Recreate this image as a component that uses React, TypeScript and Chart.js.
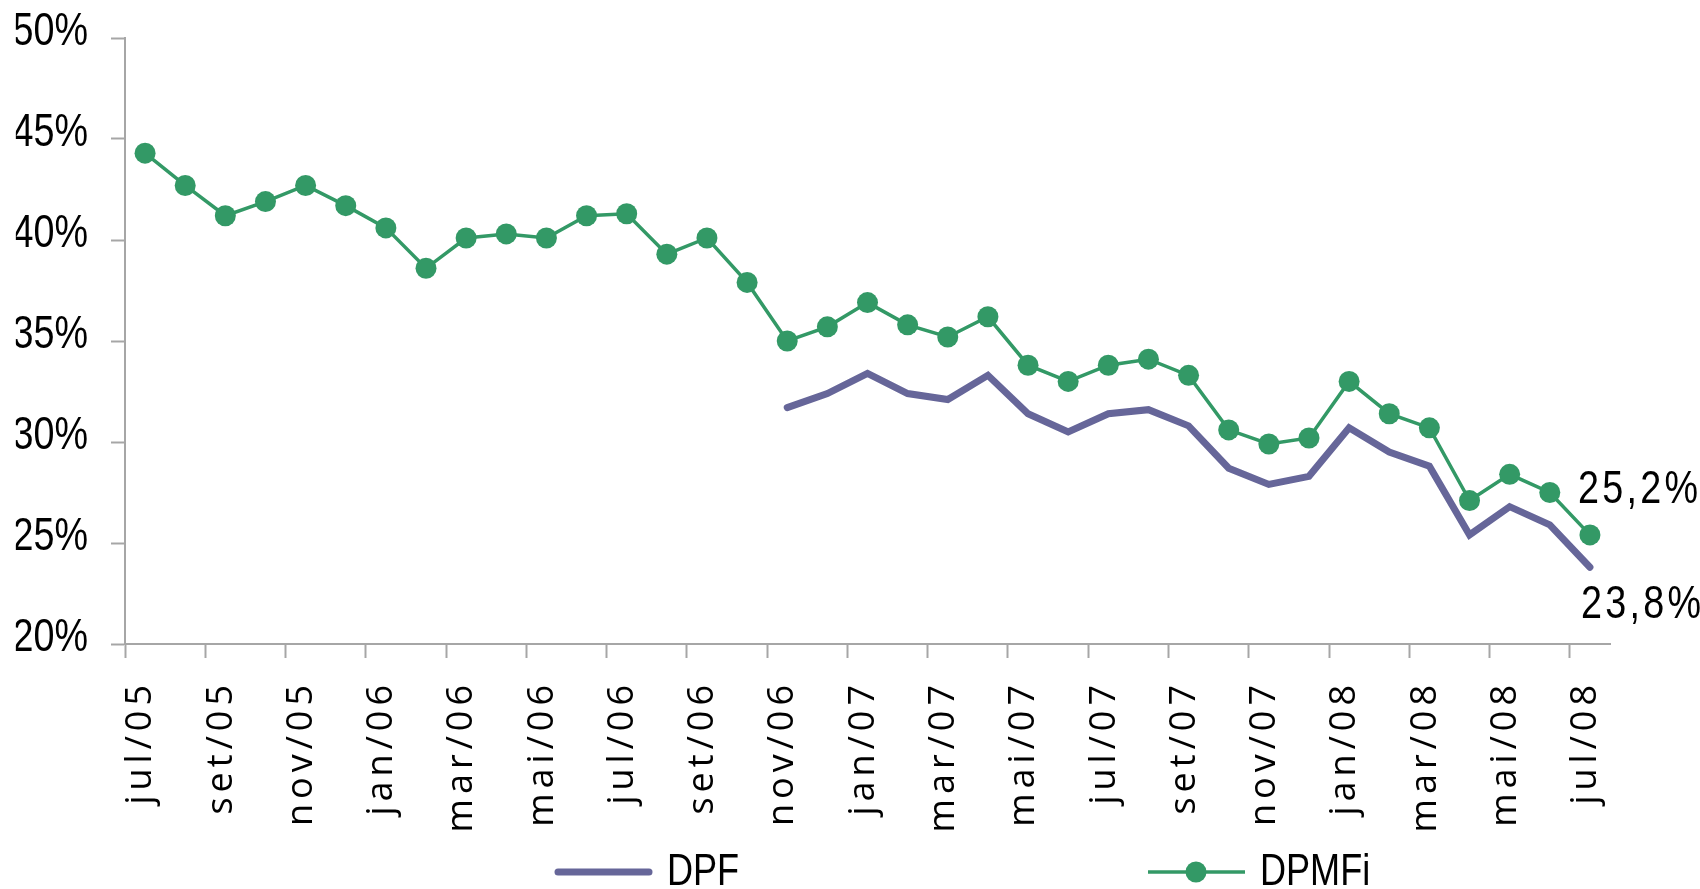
import React, { useEffect, useRef } from 'react';
import { Chart, registerables, CategoryScale, LinearScale } from 'chart.js';

Chart.register(...registerables);

// ---- data ----
const months = [
  'jul/05', 'ago/05', 'set/05', 'out/05', 'nov/05', 'dez/05',
  'jan/06', 'fev/06', 'mar/06', 'abr/06', 'mai/06', 'jun/06', 'jul/06', 'ago/06', 'set/06', 'out/06', 'nov/06', 'dez/06',
  'jan/07', 'fev/07', 'mar/07', 'abr/07', 'mai/07', 'jun/07', 'jul/07', 'ago/07', 'set/07', 'out/07', 'nov/07', 'dez/07',
  'jan/08', 'fev/08', 'mar/08', 'abr/08', 'mai/08', 'jun/08', 'jul/08',
];

const dpf = [
  null, null, null, null, null, null,
  null, null, null, null, null, null, null, null, null, null, 31.7, 32.4,
  33.4, 32.4, 32.1, 33.3, 31.4, 30.5, 31.4, 31.6, 30.8, 28.7, 27.9, 28.3,
  30.7, 29.5, 28.8, 25.4, 26.8, 25.9, 23.8,
];

const dpmfi = [
  44.3, 42.7, 41.2, 41.9, 42.7, 41.7,
  40.6, 38.6, 40.1, 40.3, 40.1, 41.2, 41.3, 39.3, 40.1, 37.9, 35.0, 35.7,
  36.9, 35.8, 35.2, 36.2, 33.8, 33.0, 33.8, 34.1, 33.3, 30.6, 29.9, 30.2,
  33.0, 31.4, 30.7, 27.1, 28.4, 27.5, 25.4,
];

const seriesNames = ['DPF', 'DPMFi'];
const endLabels = ['23,8%', '25,2%'];
const yTicks = [20, 25, 30, 35, 40, 45, 50];

// ---- styles ----
const PURPLE = '#666699';
const GREEN = '#339966';
const AXIS = '#a6a6a6';
const NARROW_FAMILY = "'Liberation Sans', Arial, sans-serif";
const NARROW_SCALE = 0.82;
const WIDE = "'Open Sans', 'Noto Sans', sans-serif";

const Y_TICK_LEN = 14;
const Y_PAD = 23;

class SpacedCategoryScale extends (CategoryScale as any) {
  static id = 'spacedCategory';
  static defaults = (CategoryScale as any).defaults;
  drawLabels(chartArea: any) {
    const ctx = (this as any).ctx;
    const prev = ctx.letterSpacing;
    ctx.letterSpacing = '5px';
    super.drawLabels(chartArea);
    ctx.letterSpacing = prev || '0px';
  }
}

class NarrowLinearScale extends (LinearScale as any) {
  static id = 'narrowLinear';
  static defaults = (LinearScale as any).defaults;
  drawLabels(chartArea: any) {
    const ctx = (this as any).ctx;
    const ax = (this as any).right - Y_TICK_LEN - Y_PAD;
    ctx.save();
    ctx.translate(ax, 0);
    ctx.scale(NARROW_SCALE, 1);
    ctx.translate(-ax, 0);
    super.drawLabels(chartArea);
    ctx.restore();
  }
}
Chart.register(SpacedCategoryScale as any, NarrowLinearScale as any);

function narrowText(ctx: any, text: string, x: number, y: number, size: number, spacing = 0) {
  ctx.save();
  ctx.translate(x, y);
  ctx.scale(NARROW_SCALE, 1);
  ctx.font = `${size}px ${NARROW_FAMILY}`;
  ctx.letterSpacing = `${spacing}px`;
  ctx.fillStyle = '#000';
  ctx.textAlign = 'left';
  ctx.textBaseline = 'alphabetic';
  ctx.fillText(text, 0, 0);
  ctx.restore();
}

const endLabelPlugin = {
  id: 'endLabels',
  afterDatasetsDraw(chart: any) {
    const ctx = chart.ctx;
    const offsets = [
      { dx: -9, dy: 51 },
      { dx: -12, dy: -32 },
    ];
    chart.data.datasets.forEach((ds: any, i: number) => {
      const meta = chart.getDatasetMeta(i);
      const pt = meta.data[meta.data.length - 1];
      if (!pt) return;
      narrowText(ctx, endLabels[i], pt.x + offsets[i].dx, pt.y + offsets[i].dy, 46, 4);
    });
  },
};

const legendPlugin = {
  id: 'customLegend',
  afterDraw(chart: any) {
    const ctx = chart.ctx;
    const starts = [555, 1148];
    const lineY = 872;
    chart.data.datasets.forEach((ds: any, i: number) => {
      const x0 = starts[i];
      ctx.save();
      ctx.strokeStyle = ds.borderColor;
      ctx.lineWidth = ds.borderWidth;
      ctx.lineCap = i === 0 ? 'round' : 'butt';
      ctx.beginPath();
      ctx.moveTo(x0 + (i === 0 ? 3 : 0), lineY);
      ctx.lineTo(x0 + 97 - (i === 0 ? 3 : 0), lineY);
      ctx.stroke();
      if (ds.pointRadius > 0) {
        ctx.fillStyle = ds.borderColor;
        ctx.beginPath();
        ctx.arc(x0 + 48, lineY, ds.pointRadius, 0, Math.PI * 2);
        ctx.fill();
      }
      ctx.restore();
      narrowText(ctx, ds.label, x0 + 112, 885, 44);
    });
  },
};

export default function App() {
  const ref = useRef<HTMLCanvasElement>(null);
  useEffect(() => {
    document.body.style.margin = '0';
    const chart = new Chart(ref.current as HTMLCanvasElement, {
      type: 'line',
      data: {
        labels: months,
        datasets: [
          {
            label: seriesNames[0],
            data: dpf,
            borderColor: PURPLE,
            backgroundColor: PURPLE,
            borderWidth: 7,
            pointRadius: 0,
            pointHoverRadius: 0,
            borderCapStyle: 'round',
            borderJoinStyle: 'miter',
            tension: 0,
            order: 2,
          },
          {
            label: seriesNames[1],
            data: dpmfi,
            borderColor: GREEN,
            backgroundColor: GREEN,
            borderWidth: 3.5,
            pointRadius: 10.5,
            pointBorderWidth: 0,
            pointBackgroundColor: GREEN,
            tension: 0,
            order: 1,
          },
        ] as any,
      },
      options: {
        responsive: false,
        animation: false,
        devicePixelRatio: 1,
        layout: { padding: { top: 38, right: 90, left: 0, bottom: 0 } },
        plugins: {
          legend: { display: false },
          tooltip: { enabled: false },
        },
        scales: {
          x: {
            type: 'spacedCategory' as any,
            offset: true,
            grid: {
              offset: true,
              drawOnChartArea: false,
              tickLength: 14,
              tickWidth: 2,
              tickColor: (c: any) =>
                c.index !== undefined && c.index % 2 === 0 ? AXIS : 'rgba(0,0,0,0)',
            },
            border: { color: AXIS, width: 2 },
            ticks: {
              autoSkip: false,
              maxRotation: 90,
              minRotation: 90,
              padding: 22,
              labelOffset: -4,
              color: '#000',
              font: { family: WIDE, size: 36 },
              callback: function (this: any, v: any, i: number) {
                return i % 2 === 0 ? this.getLabelForValue(v) : '';
              },
            },
            afterFit: (s: any) => {
              s.height = 245;
              s.paddingLeft = 0;
              s.paddingRight = 0;
            },
          } as any,
          y: {
            type: 'narrowLinear' as any,
            min: yTicks[0],
            max: yTicks[yTicks.length - 1],
            grid: {
              drawOnChartArea: false,
              tickLength: Y_TICK_LEN,
              tickWidth: 2,
              tickColor: AXIS,
            },
            border: { color: AXIS, width: 2 },
            ticks: {
              stepSize: yTicks[1] - yTicks[0],
              padding: Y_PAD,
              labelOffset: -6,
              color: '#000',
              font: { family: NARROW_FAMILY, size: 46 },
              callback: (v: any) => v + '%',
            },
            afterFit: (s: any) => {
              s.width = 125;
              s.paddingTop = 0;
              s.paddingBottom = 0;
            },
          } as any,
        },
      },
      plugins: [endLabelPlugin, legendPlugin],
    });
    return () => chart.destroy();
  }, []);
  return (
    <canvas
      ref={ref}
      width={1700}
      height={889}
      style={{ display: 'block', width: 1700, height: 889 }}
    />
  );
}
